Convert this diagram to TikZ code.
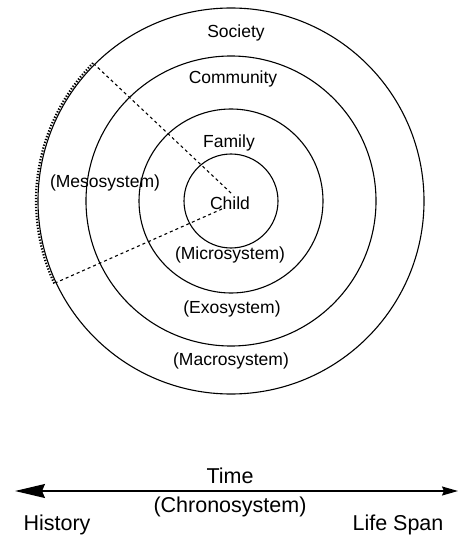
\documentclass[tikz,border=0pt]{standalone}
\usepackage{fontspec}
\setmainfont{Liberation Sans}
\usetikzlibrary{arrows.meta}
\tikzset{
  ring/.style={circle, draw, line width=1.1bp, inner sep=0pt, minimum size=#1},
  lbl/.style={inner sep=0pt, font=\fontsize{17.5bp}{20bp}\selectfont},
  timelbl/.style={inner sep=0pt, font=\fontsize{21.5bp}{24bp}\selectfont},
  link/.style={line width=1.1bp, dash pattern=on 3bp off 3bp},
}
\begin{document}
\begin{tikzpicture}[x=1bp,y=-1bp]
\useasboundingbox (0,0) rectangle (464,535);

% nested systems around the child
\coordinate (c) at (231,201);
\node[ring=386bp] (outer) at (c) {};
\node[ring=290bp] (community) at (c) {};
\node[ring=184bp] (family) at (c) {};
\node[ring=94bp]  (child) at (c) {};

% mesosystem wedge
\coordinate (m1) at (231,193);
\coordinate (m2) at (222,209);
\draw[link] (m1) -- (outer.135);
\draw[link] (m2) -- (outer.205);
% y axis points down, so angles run clockwise on the page
\draw[line width=2.2bp, dash pattern=on 1.3bp off 1.7bp]
  (c) ++(155:195) arc[start angle=155, end angle=225, radius=195];

% ring labels
\node[lbl] (society) at (236,33) {Society};
\node[lbl] (commtxt) at (233,79) {Community};
\node[lbl] (famtxt) at (229,143) {Family};
\node[lbl] (childtxt) at (230,203) {Child};
\node[lbl] (meso) at (105,183) {(Mesosystem)};
\node[lbl] (micro) at (230,255) {(Microsystem)};
\node[lbl] (exo) at (232,309) {(Exosystem)};
\node[lbl] (macro) at (231,361) {(Macrosystem)};

% time axis
\coordinate (tl) at (15,491);
\coordinate (tr) at (458,491);
\draw[line width=1.4bp, {Stealth[length=30bp,width=14bp,inset=3bp]}-{Stealth[length=16bp,width=9bp,inset=2bp]}] (tl) -- (tr);
\node[timelbl] (time) at (230,476) {Time};
\node[timelbl] (chrono) at (230,507) {(Chronosystem)};
\node[timelbl] (hist) at (57,525) {History};
\node[timelbl] (life) at (398,525) {Life Span};
\end{tikzpicture}
\end{document}
